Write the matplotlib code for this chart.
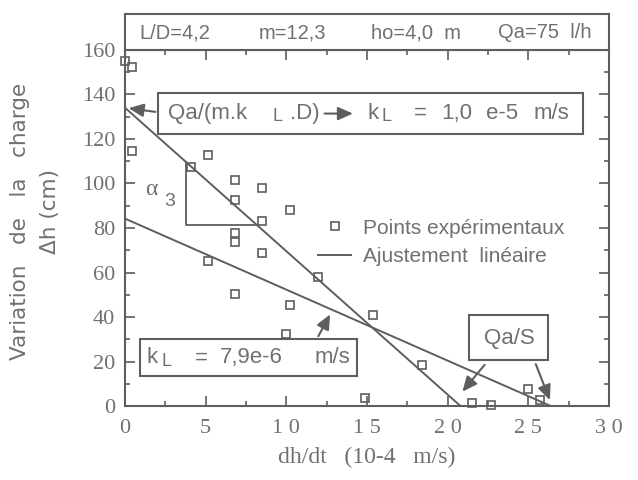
import numpy as np
import matplotlib.pyplot as plt

# points expérimentaux (dh/dt en 10-4 m/s, variation de charge en cm)
pts_x = [0.0, 0.4, 0.4, 5.15, 4.1, 6.8, 8.5, 6.8, 10.2, 8.5, 6.8, 6.8, 8.5, 5.15,
         11.95, 6.8, 10.2, 15.35, 10.0, 18.4, 14.85, 21.5, 22.7, 25.0, 25.7]
pts_y = [155.2, 152.5, 114.8, 113.0, 107.3, 101.7, 98.1, 92.4, 87.9, 83.1, 77.7, 73.7, 68.7, 65.0,
         58.0, 50.2, 45.3, 40.8, 32.6, 18.5, 3.5, 1.2, 0.5, 7.5, 2.7]

# ajustements linéaires (extrémités)
fit1_x = [0.0, 20.8]
fit1_y = [134.0, 0.0]
fit2_x = [0.0, 26.4]
fit2_y = [84.2, 0.0]

header = ['L/D=4,2', 'm=12,3', 'ho=4,0  m', 'Qa=75  l/h']

gris = '#5e5e5e'
gris_txt = '#707070'
sans = ['Liberation Sans', 'DejaVu Sans']
serif = 'Liberation Serif'

fig = plt.figure(figsize=(6.38, 4.8), dpi=100)
ax = fig.add_axes([0.196, 0.154, 0.7585, 0.742])
hd = fig.add_axes([0.196, 0.896, 0.7585, 0.075])

# bandeau du haut
hd.set_xticks([])
hd.set_yticks([])
for s in hd.spines.values():
    s.set_color(gris)
    s.set_linewidth(1.5)
hx = [0.029, 0.276, 0.508, 0.771]
for t, x in zip(header, hx):
    hd.text(x, 0.47, t, transform=hd.transAxes, ha='left', va='center',
            fontsize=14.5, family=sans, color=gris_txt)

# courbes
ax.plot(pts_x, pts_y, 's', mfc='none', mec=gris, ms=6, mew=1.2,
        label='Points expérimentaux', clip_on=False, zorder=3)
ax.plot(fit1_x, fit1_y, '-', color=gris, lw=1.4, label='Ajustement  linéaire')
ax.plot(fit2_x, fit2_y, '-', color=gris, lw=1.4)

ax.set_xlim(0, 30)
ax.set_ylim(0, 160)
ax.set_xticks(np.arange(0, 31, 5))
ax.set_xticklabels([' '.join(str(v)) for v in range(0, 31, 5)])
ax.set_xticks(np.arange(0, 30.1, 2.5), minor=True)
ax.set_yticks(np.arange(0, 161, 20))
ax.set_yticks(np.arange(0, 161, 10), minor=True)
ax.tick_params(which='both', direction='in', top=True, right=True, colors=gris,
               labelcolor=gris_txt, width=1.2)
ax.tick_params(which='major', length=7, labelsize=16)
ax.tick_params(axis='x', which='major', pad=9)
ax.tick_params(axis='y', which='major', pad=7)
ax.tick_params(which='minor', length=3.5)
for lab in ax.get_xticklabels() + ax.get_yticklabels():
    lab.set_family(serif)
for s in ax.spines.values():
    s.set_color(gris)
    s.set_linewidth(1.5)

ax.set_xlabel('dh/dt   (10-4   m/s)', family=serif, fontsize=17, color=gris_txt, labelpad=7)
fig.text(20 / 638, 1 - 221 / 480, 'Variation   de   la   charge',
         rotation=90, ha='center', va='center', family='DejaVu Sans', fontsize=15.5,
         color=gris_txt)
fig.text(50 / 638, 1 - 212 / 480, '\u0394h (cm)',
         rotation=90, ha='center', va='center', family='DejaVu Sans', fontsize=15.5,
         color=gris_txt)

# triangle de pente alpha 3
a = (fit1_y[1] - fit1_y[0]) / (fit1_x[1] - fit1_x[0])
xa, xb = 3.75, 8.2
ya, yb = fit1_y[0] + a * xa, fit1_y[0] + a * xb
ax.plot([xa, xa, xb], [ya, yb, yb], color=gris, lw=1.3)
ax.text(1.65, 97.5, '\u03b1', family=serif, fontsize=17, color=gris_txt, ha='center', va='center')
ax.text(2.75, 92.0, '3', family=sans, fontsize=14, color=gris_txt, ha='center', va='center')

fl = dict(arrowstyle='-|>,head_length=0.9,head_width=0.4', color=gris, lw=1.5)


def morceau(x, y, s, size=16, dy=0.0):
    ax.text(x, y + dy, s, family=sans, fontsize=size, color=gris_txt,
            ha='left', va='center', zorder=5)


# boîte Qa/(m.kL.D)
ax.add_patch(plt.Rectangle((2.05, 122.4), 26.35, 18.4, fc='white', ec=gris, lw=1.5, zorder=4))
yb1 = 131.4
morceau(2.66, yb1, 'Qa/(m.k')
morceau(9.15, yb1, 'L', 13, -1.5)
morceau(10.2, yb1, '.D)')
ax.annotate('', xy=(14.3, yb1), xytext=(12.2, yb1), arrowprops=fl, zorder=5)
morceau(15.03, yb1, 'k')
morceau(15.9, yb1, 'L', 13, -1.5)
morceau(17.9, yb1, '=')
morceau(19.6, yb1, '1,0')
morceau(22.4, yb1, 'e-5')
morceau(25.3, yb1, 'm/s')
ax.annotate('', xy=(0.05, 134.0), xytext=(2.05, 132.0), arrowprops=fl, zorder=5)

# boîte kL = 7,9e-6
ax.add_patch(plt.Rectangle((0.9, 13.5), 13.5, 16.8, fc='white', ec=gris, lw=1.5, zorder=4))
yb2 = 21.6
morceau(1.35, yb2, 'k')
morceau(2.25, yb2, 'L', 13, -1.5)
morceau(4.3, yb2, '=')
morceau(5.85, yb2, '7,9e-6')
morceau(11.75, yb2, 'm/s')
ax.annotate('', xy=(12.8, 42.3), xytext=(11.9, 30.3), arrowprops=fl, zorder=5)

# boîte Qa/S
ax.add_patch(plt.Rectangle((21.3, 20.6), 4.9, 20.2, fc='white', ec=gris, lw=1.5, zorder=4))
ax.text(23.85, 30.5, 'Qa/S', family=sans, fontsize=16, color=gris_txt,
        ha='center', va='center', zorder=5)
ax.annotate('', xy=(20.8, 5.5), xytext=(22.4, 19.5), arrowprops=fl, zorder=5)
ax.annotate('', xy=(26.4, 1.5), xytext=(25.4, 20.0), arrowprops=fl, zorder=5)

ax.legend(loc='center left', bbox_to_anchor=(0.36, 0.46), frameon=False,
          handlelength=1.6, handletextpad=0.55, labelspacing=0.45,
          labelcolor=gris_txt, prop={'family': sans, 'size': 15})

fig.savefig('out.png', dpi=100, facecolor='white')
